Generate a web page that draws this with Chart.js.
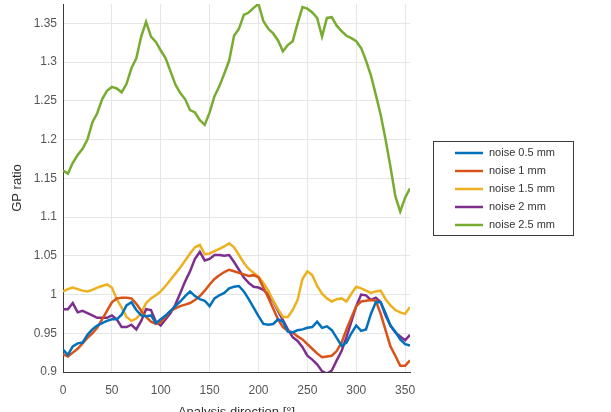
<!DOCTYPE html>
<html>
<head>
<meta charset="utf-8">
<script src="https://cdn.jsdelivr.net/npm/chart.js@4"></script>
<style>
    html, body { margin: 0; padding: 0; background: #fff; overflow: hidden; }
    #wrap { width: 611px; height: 412px; position: relative; }
</style>
</head>
<body>
<div id="wrap"><canvas id="chart" width="611" height="412"></canvas></div>
<script>
// Analysis direction in degrees, one sample every 5°
const angles = [
    0, 5, 10, 15, 20, 25, 30, 35, 40, 45, 50, 55, 60, 65, 70, 75, 80, 85,
    90, 95, 100, 105, 110, 115, 120, 125, 130, 135, 140, 145, 150, 155, 160, 165, 170, 175,
    180, 185, 190, 195, 200, 205, 210, 215, 220, 225, 230, 235, 240, 245, 250, 255, 260, 265,
    270, 275, 280, 285, 290, 295, 300, 305, 310, 315, 320, 325, 330, 335, 340, 345, 350, 355,
];

const noise05 = [
    0.929, 0.922, 0.933, 0.937, 0.938, 0.948, 0.955, 0.960, 0.963, 0.966, 0.968, 0.968, 0.974, 0.986, 0.990, 0.980, 0.973, 0.972,
    0.973, 0.963, 0.968, 0.973, 0.979, 0.985, 0.991, 0.998, 1.004, 0.998, 0.994, 0.992, 0.985, 0.995, 0.999, 1.002, 1.008, 1.010,
    1.011, 1.004, 0.994, 0.983, 0.972, 0.962, 0.961, 0.962, 0.968, 0.965, 0.952, 0.951, 0.954, 0.955, 0.957, 0.958, 0.965, 0.957,
    0.959, 0.954, 0.944, 0.934, 0.938, 0.950, 0.960, 0.953, 0.955, 0.975, 0.990, 0.990, 0.976, 0.960, 0.952, 0.942, 0.936, 0.934,
];

const noise1 = [
    0.923, 0.920, 0.925, 0.930, 0.937, 0.944, 0.950, 0.957, 0.968, 0.979, 0.990, 0.995, 0.996, 0.996, 0.995, 0.988, 0.979, 0.971,
    0.965, 0.962, 0.964, 0.971, 0.979, 0.982, 0.985, 0.987, 0.989, 0.993, 0.998, 1.005, 1.013, 1.020, 1.025, 1.029, 1.032, 1.030,
    1.028, 1.026, 1.024, 1.025, 1.022, 1.009, 0.996, 0.982, 0.968, 0.958, 0.953, 0.951, 0.946, 0.942, 0.936, 0.930, 0.924, 0.919,
    0.920, 0.921, 0.927, 0.938, 0.955, 0.970, 0.985, 0.991, 0.992, 0.993, 0.992, 0.975, 0.954, 0.933, 0.921, 0.908, 0.908, 0.915,
];

const noise15 = [
    1.004, 1.007, 1.009, 1.007, 1.005, 1.004, 1.006, 1.009, 1.011, 1.013, 1.009, 0.994, 0.983, 0.971, 0.966, 0.969, 0.976, 0.989,
    0.995, 0.999, 1.004, 1.011, 1.019, 1.027, 1.035, 1.044, 1.053, 1.061, 1.064, 1.052, 1.053, 1.056, 1.059, 1.062, 1.066, 1.061,
    1.051, 1.041, 1.033, 1.028, 1.023, 1.015, 1.005, 0.992, 0.981, 0.971, 0.971, 0.980, 0.993, 1.020, 1.030, 1.025, 1.011, 1.001,
    0.995, 0.991, 0.994, 0.995, 0.991, 1.001, 1.010, 1.008, 1.005, 1.002, 1.004, 1.005, 0.994, 0.986, 0.980, 0.977, 0.975, 0.984,
];

const noise2 = [
    0.981, 0.981, 0.989, 0.977, 0.979, 0.976, 0.973, 0.970, 0.970, 0.970, 0.973, 0.968, 0.958, 0.958, 0.961, 0.955, 0.966, 0.981,
    0.980, 0.965, 0.960, 0.968, 0.976, 0.987, 1.002, 1.017, 1.030, 1.046, 1.055, 1.044, 1.046, 1.051, 1.051, 1.050, 1.051, 1.042,
    1.032, 1.022, 1.015, 1.010, 1.009, 1.006, 1.000, 0.991, 0.979, 0.967, 0.955, 0.945, 0.940, 0.932, 0.921, 0.916, 0.910, 0.901,
    0.898, 0.902, 0.915, 0.927, 0.945, 0.965, 0.985, 1.000, 0.999, 0.993, 0.996, 0.990, 0.973, 0.960, 0.951, 0.946, 0.941, 0.948,
];

const noise25 = [
    1.160, 1.156, 1.170, 1.180, 1.188, 1.200, 1.222, 1.234, 1.252, 1.263, 1.268, 1.266, 1.261, 1.272, 1.292, 1.305, 1.333, 1.352,
    1.333, 1.326, 1.315, 1.305, 1.288, 1.271, 1.260, 1.252, 1.238, 1.235, 1.225, 1.219, 1.235, 1.256, 1.269, 1.285, 1.302, 1.334,
    1.343, 1.361, 1.364, 1.370, 1.375, 1.353, 1.343, 1.337, 1.328, 1.314, 1.322, 1.327, 1.350, 1.371, 1.369, 1.364, 1.357, 1.333,
    1.357, 1.358, 1.347, 1.340, 1.334, 1.331, 1.327, 1.318, 1.302, 1.283, 1.258, 1.232, 1.200, 1.165, 1.127, 1.107, 1.125, 1.137,
];

const seriesLabels = ['noise 0.5 mm', 'noise 1 mm', 'noise 1.5 mm', 'noise 2 mm', 'noise 2.5 mm'];
const xTicks = [0, 50, 100, 150, 200, 250, 300, 350];
const yTicks = [0.9, 0.95, 1, 1.05, 1.1, 1.15, 1.2, 1.25, 1.3, 1.35];

const colors = ['#0072BD', '#D95319', '#EDB120', '#7E2F8E', '#77AC30'];
const FONT = "'Liberation Sans', Arial, Helvetica, sans-serif";

const toPoints = (values) => values.map((v, i) => ({ x: angles[i], y: v }));

// MATLAB-style boxed legend, drawn at a fixed spot to the right of the axes
const boxLegend = {
    id: 'boxLegend',
    afterDraw(chart) {
        const { ctx } = chart;
        const left = 433, top = 141, width = 140, rowH = 18;
        const height = rowH * chart.data.datasets.length + 4;
        ctx.save();
        ctx.fillStyle = '#fff';
        ctx.fillRect(left, top, width, height);
        ctx.strokeStyle = '#3a3a3a';
        ctx.lineWidth = 1;
        ctx.strokeRect(left + 0.5, top + 0.5, width, height);
        ctx.font = `11px ${FONT}`;
        ctx.textBaseline = 'middle';
        chart.data.datasets.forEach((ds, i) => {
            const y = top + 12 + i * rowH;
            ctx.strokeStyle = ds.borderColor;
            ctx.lineWidth = 2.5;
            ctx.beginPath();
            ctx.moveTo(left + 22, y);
            ctx.lineTo(left + 50, y);
            ctx.stroke();
            ctx.fillStyle = '#333';
            ctx.fillText(ds.label, left + 56, y);
        });
        ctx.restore();
    },
};

const allSeries = [noise05, noise1, noise15, noise2, noise25];

new Chart(document.getElementById('chart'), {
    type: 'line',
    data: {
        datasets: allSeries.map((values, i) => ({
            label: seriesLabels[i],
            data: toPoints(values),
            borderColor: colors[i],
            backgroundColor: colors[i],
            borderWidth: 2.5,
            pointRadius: 0,
            tension: 0,
            fill: false,
        })),
    },
    options: {
        responsive: false,
        animation: false,
        // axes box: x 63..410, y 4..372 — the x title hangs off the bottom edge like the source
        layout: { padding: { left: 0, top: 4, right: 201, bottom: -8 } },
        plugins: {
            legend: { display: false },
            tooltip: { enabled: false },
        },
        scales: {
            x: {
                type: 'linear',
                min: 0,
                max: 355,
                afterBuildTicks: (scale) => { scale.ticks = xTicks.map((v) => ({ value: v })); },
                afterFit: (scale) => { scale.height = 48; },
                grid: { color: '#e6e6e6', drawTicks: false },
                border: { color: '#3a3a3a', width: 1 },
                ticks: {
                    padding: 11,
                    color: '#555',
                    font: { family: FONT, size: 12 },
                    maxRotation: 0,
                    callback: (v) => String(v),
                },
                title: {
                    display: true,
                    text: 'Analysis direction [°]',
                    color: '#333',
                    font: { family: FONT, size: 13 },
                    padding: { top: 0, bottom: 0 },
                },
            },
            y: {
                min: 0.9,
                max: 1.375,
                afterBuildTicks: (scale) => { scale.ticks = yTicks.map((v) => ({ value: v })); },
                afterFit: (scale) => {
                    scale.width = 63;
                    scale.paddingTop = 0;
                    scale.paddingBottom = 0;
                },
                grid: { color: '#e6e6e6', drawTicks: false },
                border: { color: '#3a3a3a', width: 1 },
                ticks: {
                    padding: 6,
                    color: '#555',
                    font: { family: FONT, size: 12 },
                    callback: (v) => String(Math.round(v * 100) / 100),
                },
                title: {
                    display: true,
                    text: 'GP ratio',
                    color: '#333',
                    font: { family: FONT, size: 13 },
                    padding: { top: 10, bottom: 0 },
                },
            },
        },
    },
    plugins: [boxLegend],
});
</script>
</body>
</html>
